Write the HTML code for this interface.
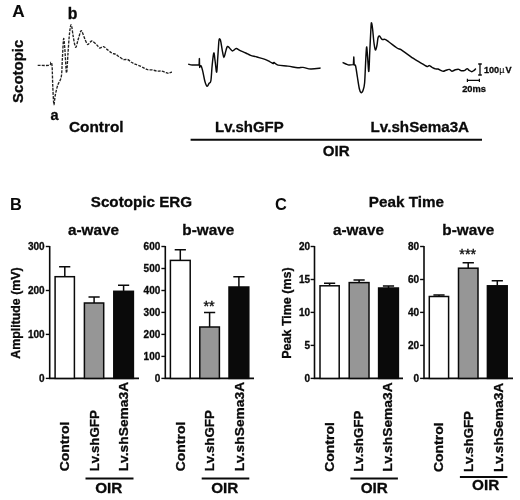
<!DOCTYPE html>
<html><head><meta charset="utf-8"><title>Figure</title>
<style>
html,body{margin:0;padding:0;background:#fff;}
body{width:520px;height:500px;overflow:hidden;}
svg{display:block;filter:grayscale(1);}
text{font-family:"Liberation Sans",sans-serif;font-weight:bold;fill:#0a0a0a;stroke:#0a0a0a;stroke-width:0.3px;}
.ln{stroke:#0a0a0a;fill:none;}
</style></head><body>
<svg width="520" height="500" viewBox="0 0 520 500">
<rect width="520" height="500" fill="#fff"/>

<text x="12.2" y="17.4" font-size="17.2" style="stroke-width:0.1px">A</text>
<text x="67.8" y="19.3" font-size="15.8">b</text>
<text x="50.5" y="120.3" font-size="14.5">a</text>
<text transform="translate(22.9,102.9) rotate(-90) scale(1.033,1)" font-size="14.5">Scotopic</text>
<path class="ln" d="M37.7,65.3 C39.6,65.3 47.0,65.8 49.2,65.3 C51.4,64.8 50.4,62.2 50.9,62.4 C51.4,62.6 51.8,62.4 52.1,66.5 C52.4,70.6 52.5,80.7 52.8,87.0 C53.1,93.3 53.5,103.2 53.9,104.5 C54.3,105.8 54.6,98.2 55.3,95.0 C55.9,91.8 56.8,88.1 57.8,85.0 C58.8,81.9 60.5,81.0 61.3,76.5 C62.1,72.0 62.0,64.3 62.4,58.0 C62.8,51.7 63.2,40.4 63.6,38.8 C64.0,37.2 64.3,42.7 64.8,48.4 C65.3,54.1 66.0,72.1 66.5,72.9 C67.0,73.7 67.5,59.9 68.0,53.2 C68.5,46.5 69.0,37.5 69.6,32.8 C70.1,28.1 70.7,24.3 71.3,24.9 C71.9,25.5 72.5,32.7 73.2,36.4 C73.9,40.1 74.8,46.6 75.6,47.2 C76.4,47.8 77.2,42.4 78.0,40.0 C78.8,37.6 79.7,34.1 80.2,32.6 C80.7,31.1 80.8,30.6 81.2,30.7 C81.6,30.8 82.0,31.6 82.6,33.0 C83.2,34.4 84.1,37.3 84.9,39.2 C85.8,41.1 86.9,44.0 87.7,44.5 C88.5,45.0 89.2,42.9 90.0,42.3 C90.8,41.7 91.1,40.6 92.3,41.1 C93.5,41.6 95.7,43.9 96.9,45.0 C98.1,46.1 98.6,47.7 99.7,48.0 C100.8,48.3 102.1,46.3 103.4,46.6 C104.7,46.9 105.9,48.5 107.3,49.6 C108.7,50.7 110.6,52.3 111.9,53.1 C113.2,53.9 114.2,53.6 115.4,54.2 C116.6,54.8 117.5,55.6 118.8,56.5 C120.1,57.4 122.0,59.0 123.5,59.5 C125.0,60.0 126.3,59.0 127.6,59.5 C128.9,60.0 130.3,61.5 131.5,62.3 C132.7,63.1 133.7,63.6 135.0,64.2 C136.3,64.8 138.1,65.2 139.6,65.8 C141.1,66.4 142.8,67.4 144.2,68.1 C145.5,68.8 146.3,69.4 147.7,69.7 C149.0,70.0 150.8,69.7 152.3,69.9 C153.8,70.1 155.4,70.9 156.9,71.1 C158.4,71.3 159.9,70.8 161.5,71.1 C163.1,71.4 165.0,72.3 166.2,72.7 C167.4,73.1 167.6,73.3 168.5,73.2 C169.4,73.1 171.3,72.2 171.9,72.0" style="stroke:#222" stroke-width="1.35" stroke-dasharray="2.9,1.2" stroke-linejoin="round"/>
<path class="ln" d="M188.2,64.2 C188.9,64.3 190.4,64.9 192.2,65.0 C194.0,65.1 197.9,65.0 199.1,65.0 C199.2,63.9 199.3,59.7 199.4,58.6 C199.4,60.1 199.6,65.9 199.7,67.4 C199.9,67.1 200.5,65.3 201.0,65.8 C201.5,66.3 201.9,67.9 202.6,70.6 C203.3,73.3 204.2,79.2 205.0,81.8 C205.8,84.4 206.4,86.0 207.1,86.3 C207.8,86.6 208.4,84.3 209.0,83.4 C209.6,82.5 210.4,83.8 210.9,80.7 C211.4,77.6 211.7,69.6 212.2,65.0 C212.7,60.4 213.3,53.7 213.8,53.0 C214.3,52.3 214.6,57.8 215.1,61.0 C215.6,64.2 216.2,72.9 216.7,72.2 C217.1,71.5 217.4,62.2 217.8,57.0 C218.2,51.8 218.6,44.0 218.9,41.0 C219.2,38.0 219.6,38.8 219.9,39.1 C220.2,39.4 220.6,40.4 221.0,42.6 C221.4,44.8 222.1,49.7 222.6,52.2 C223.1,54.7 223.4,57.4 223.9,57.5 C224.4,57.6 224.8,54.7 225.3,53.0 C225.8,51.3 226.4,48.5 226.9,47.4 C227.4,46.3 227.6,46.3 228.2,46.6 C228.8,46.9 229.9,48.6 230.6,49.3 C231.3,50.0 231.8,50.9 232.5,50.9 C233.2,50.9 234.2,49.7 234.9,49.3 C235.6,48.9 235.6,48.3 236.5,48.5 C237.4,48.7 238.6,49.9 240.2,50.6 C241.8,51.4 244.1,52.2 245.8,53.0 C247.5,53.8 248.7,54.7 250.6,55.4 C252.5,56.1 254.6,56.3 257.0,57.0 C259.4,57.7 262.8,58.6 265.0,59.4 C267.2,60.2 268.6,61.1 270.0,61.8 C271.4,62.5 272.5,63.4 273.2,63.5 C273.9,63.6 273.2,62.2 274.0,62.5 C274.8,62.8 275.7,64.5 278.0,65.1 C280.3,65.7 284.6,65.7 287.9,66.1 C291.2,66.5 295.2,67.5 297.7,67.7 C300.2,67.9 300.8,67.2 303.0,67.4 C305.2,67.6 307.9,68.9 310.8,69.0 C313.7,69.1 319.0,68.2 320.6,68.0" stroke-width="1.45" stroke-linejoin="round"/>
<path class="ln" d="M342.6,62.4 C343.2,62.7 344.9,63.6 346.0,64.0 C347.1,64.4 347.8,64.9 349.0,65.0 C350.2,65.1 352.7,64.7 353.4,64.6 C353.5,63.3 353.7,58.3 353.8,57.0 C353.9,58.3 354.1,63.7 354.2,65.0 C354.4,65.2 355.1,64.0 355.6,66.0 C356.1,68.0 356.8,73.2 357.4,77.0 C358.0,80.8 358.8,86.4 359.4,89.0 C360.0,91.6 360.4,92.3 361.0,92.6 C361.6,92.9 362.4,92.2 363.0,90.6 C363.6,89.0 364.2,87.6 364.6,83.0 C365.0,78.4 365.3,69.0 365.6,63.0 C365.9,57.0 366.3,48.0 366.6,47.0 C366.9,46.0 367.2,52.9 367.6,57.0 C368.0,61.1 368.4,72.4 368.8,71.4 C369.2,70.4 369.4,58.4 369.8,51.0 C370.2,43.6 370.7,31.7 371.0,27.0 C371.3,22.3 371.3,22.7 371.6,23.0 C371.9,23.3 372.2,25.7 372.6,29.0 C373.0,32.3 373.5,39.5 374.0,43.0 C374.5,46.5 374.9,49.7 375.4,50.0 C375.9,50.3 376.6,47.0 377.0,45.0 C377.4,43.0 377.6,39.5 378.0,38.0 C378.4,36.5 378.7,35.8 379.4,36.0 C380.1,36.2 381.1,38.8 382.0,39.4 C382.9,40.0 383.8,39.0 385.0,39.4 C386.2,39.8 387.0,40.6 389.0,42.0 C391.0,43.4 395.0,46.7 397.0,48.0 C399.0,49.3 399.4,48.6 401.0,49.6 C402.6,50.6 404.9,52.4 406.9,53.8 C408.9,55.2 411.3,57.0 413.0,58.2 C414.7,59.4 415.7,59.8 417.3,60.8 C418.9,61.8 421.1,63.0 422.5,63.9 C423.9,64.8 425.1,65.6 426.0,66.0 C426.9,66.4 427.1,66.6 427.7,66.5 C428.3,66.4 428.7,65.5 429.4,65.6 C430.1,65.7 431.0,66.8 432.0,67.3 C433.0,67.8 434.5,68.6 435.5,68.9 C436.5,69.2 437.1,68.8 438.0,69.0 C438.9,69.2 439.8,69.9 440.7,70.3 C441.6,70.7 442.4,71.2 443.3,71.2 C444.2,71.2 444.9,70.6 445.9,70.3 C446.9,70.0 448.3,69.2 449.3,69.4 C450.3,69.6 450.9,71.1 451.9,71.2 C452.9,71.3 454.2,70.1 455.4,69.8 C456.5,69.5 457.8,69.2 458.8,69.4 C459.8,69.6 460.4,70.7 461.4,70.8 C462.4,70.9 463.9,70.7 464.9,70.3 C465.9,69.9 466.5,68.6 467.2,68.6 C467.9,68.6 468.4,69.8 469.2,70.3 C470.0,70.8 471.0,71.7 471.8,71.7 C472.6,71.7 473.4,70.8 474.1,70.3 C474.8,69.8 475.5,68.9 475.8,68.6" stroke-width="1.45" stroke-linejoin="round"/>
<text x="68.9" y="131.6" font-size="15.4">Control</text>
<text x="215.1" y="131.9" font-size="14.95">Lv.shGFP</text>
<text x="370.6" y="131.9" font-size="15.2">Lv.shSema3A</text>
<path class="ln" d="M190.6,139.8 H482" stroke-width="2.1"/>
<text x="322.8" y="156.4" font-size="15.1">OIR</text>
<path class="ln" d="M480,64 V75 M478.2,64 H481.8 M478.2,75 H481.8" stroke-width="1.3"/>
<text x="484" y="72.6" font-size="9.1">100<tspan style="font-weight:normal;stroke-width:0.1px">µ</tspan><tspan dx="1.1">V</tspan></text>
<path class="ln" d="M467.4,80.4 H479.4 M467.4,78.8 V82 M479.4,78.8 V82" stroke-width="1.2"/>
<text x="462.2" y="91.8" font-size="9.3">20ms</text>
<text x="10.1" y="209.6" font-size="16.4" style="stroke-width:0">B</text>
<text x="90.8" y="206.8" font-size="15.2">Scotopic ERG</text>
<text x="67.9" y="235.3" font-size="15.3">a-wave</text>
<text x="182.3" y="235.2" font-size="15.3">b-wave</text>
<text x="275" y="209.7" font-size="16.4" style="stroke-width:0">C</text>
<text x="368.8" y="206.7" font-size="15.25">Peak Time</text>
<text x="333" y="235.3" font-size="15.3">a-wave</text>
<text x="442.3" y="235.2" font-size="15.3">b-wave</text>
<path class="ln" d="M49.7,245.9 V378.4 H139" stroke-width="1.6"/>
<path class="ln" d="M45.8,378.4 H49.7" stroke-width="1.4"/>
<text x="44.6" y="382.3" font-size="10" text-anchor="end">0</text>
<path class="ln" d="M45.8,334.4 H49.7" stroke-width="1.4"/>
<text x="44.6" y="338.3" font-size="10" text-anchor="end">100</text>
<path class="ln" d="M45.8,290.5 H49.7" stroke-width="1.4"/>
<text x="44.6" y="294.4" font-size="10" text-anchor="end">200</text>
<path class="ln" d="M45.8,246.5 H49.7" stroke-width="1.4"/>
<text x="44.6" y="250.4" font-size="10" text-anchor="end">300</text>
<path class="ln" d="M64.8,276.7 V266.8 M59.1,266.8 H70.3" stroke-width="1.5"/>
<rect x="55.1" y="276.7" width="19.3" height="101.7" fill="#fff" stroke="#0a0a0a" stroke-width="1.5"/>
<path class="ln" d="M94.1,303 V297.1 M88.5,297.1 H99.7" stroke-width="1.5"/>
<rect x="84.4" y="303" width="19.3" height="75.4" fill="#969696" stroke="#0a0a0a" stroke-width="1.5"/>
<path class="ln" d="M123.6,291.3 V285.3 M118.0,285.3 H129.2" stroke-width="1.5"/>
<rect x="113.8" y="291.3" width="19.6" height="87.1" fill="#0a0a0a" stroke="#0a0a0a" stroke-width="1.5"/>
<text transform="translate(19.5,358.8) rotate(-90) scale(1.016,1)" font-size="12.2">Amplitude (mV)</text>
<text transform="translate(68.5,471.3) rotate(-90) scale(1.028,1)" font-size="13.6">Control</text>
<text transform="translate(98.7,471.3) rotate(-90) scale(0.979,1)" font-size="13.6">Lv.shGFP</text>
<text transform="translate(128.1,471.3) rotate(-90) scale(1.015,1)" font-size="13.6">Lv.shSema3A</text>
<path class="ln" d="M85.5,478.5 H133.5" stroke-width="1.9"/>
<text x="108.8" y="493.3" font-size="15.3" text-anchor="middle">OIR</text>
<path class="ln" d="M165.3,245.9 V378.4 H254" stroke-width="1.6"/>
<path class="ln" d="M161.4,378.4 H165.3" stroke-width="1.4"/>
<text x="160.3" y="382.3" font-size="10" text-anchor="end">0</text>
<path class="ln" d="M161.4,356.4 H165.3" stroke-width="1.4"/>
<text x="160.3" y="360.3" font-size="10" text-anchor="end">100</text>
<path class="ln" d="M161.4,334.4 H165.3" stroke-width="1.4"/>
<text x="160.3" y="338.3" font-size="10" text-anchor="end">200</text>
<path class="ln" d="M161.4,312.4 H165.3" stroke-width="1.4"/>
<text x="160.3" y="316.3" font-size="10" text-anchor="end">300</text>
<path class="ln" d="M161.4,290.5 H165.3" stroke-width="1.4"/>
<text x="160.3" y="294.4" font-size="10" text-anchor="end">400</text>
<path class="ln" d="M161.4,268.5 H165.3" stroke-width="1.4"/>
<text x="160.3" y="272.4" font-size="10" text-anchor="end">500</text>
<path class="ln" d="M161.4,246.5 H165.3" stroke-width="1.4"/>
<text x="160.3" y="250.4" font-size="10" text-anchor="end">600</text>
<path class="ln" d="M180.3,260.4 V249.8 M174.7,249.8 H185.9" stroke-width="1.5"/>
<rect x="170.4" y="260.4" width="19.8" height="118.0" fill="#fff" stroke="#0a0a0a" stroke-width="1.5"/>
<path class="ln" d="M209.6,327 V312.6 M204.0,312.6 H215.2" stroke-width="1.5"/>
<rect x="199.8" y="327" width="19.6" height="51.4" fill="#969696" stroke="#0a0a0a" stroke-width="1.5"/>
<path class="ln" d="M238.9,287 V276.7 M233.3,276.7 H244.5" stroke-width="1.5"/>
<rect x="229.0" y="287" width="19.8" height="91.4" fill="#0a0a0a" stroke="#0a0a0a" stroke-width="1.5"/>
<text x="209.1" y="310.7" font-size="14.4" text-anchor="middle" style="font-weight:normal;stroke-width:0.35px">**</text>
<text transform="translate(185,471.3) rotate(-90) scale(1.028,1)" font-size="13.6">Control</text>
<text transform="translate(213.9,471.3) rotate(-90) scale(0.979,1)" font-size="13.6">Lv.shGFP</text>
<text transform="translate(243.6,471.3) rotate(-90) scale(1.015,1)" font-size="13.6">Lv.shSema3A</text>
<path class="ln" d="M201.7,478.5 H249.3" stroke-width="1.9"/>
<text x="224.8" y="493.3" font-size="15.3" text-anchor="middle">OIR</text>
<path class="ln" d="M314.5,245.9 V378.4 H403" stroke-width="1.6"/>
<path class="ln" d="M310.6,378.4 H314.5" stroke-width="1.4"/>
<text x="310.0" y="382.3" font-size="10" text-anchor="end">0</text>
<path class="ln" d="M310.6,345.4 H314.5" stroke-width="1.4"/>
<text x="310.0" y="349.3" font-size="10" text-anchor="end">5</text>
<path class="ln" d="M310.6,312.4 H314.5" stroke-width="1.4"/>
<text x="310.0" y="316.3" font-size="10" text-anchor="end">10</text>
<path class="ln" d="M310.6,279.5 H314.5" stroke-width="1.4"/>
<text x="310.0" y="283.4" font-size="10" text-anchor="end">15</text>
<path class="ln" d="M310.6,246.5 H314.5" stroke-width="1.4"/>
<text x="310.0" y="250.4" font-size="10" text-anchor="end">20</text>
<path class="ln" d="M329.6,285.8 V283.3 M324.0,283.3 H335.2" stroke-width="1.5"/>
<rect x="320.0" y="285.8" width="19.2" height="92.6" fill="#fff" stroke="#0a0a0a" stroke-width="1.5"/>
<path class="ln" d="M359.1,282.6 V280.1 M353.5,280.1 H364.7" stroke-width="1.5"/>
<rect x="349.2" y="282.6" width="19.8" height="95.8" fill="#969696" stroke="#0a0a0a" stroke-width="1.5"/>
<path class="ln" d="M388.5,288 V285.9 M382.9,285.9 H394.1" stroke-width="1.5"/>
<rect x="378.6" y="288" width="19.8" height="90.4" fill="#0a0a0a" stroke="#0a0a0a" stroke-width="1.5"/>
<text transform="translate(290.6,358.7) rotate(-90) scale(1.024,1)" font-size="12.2">Peak Time (ms)</text>
<text transform="translate(333.6,471.8) rotate(-90) scale(1.028,1)" font-size="13.6">Control</text>
<text transform="translate(363.2,471.8) rotate(-90) scale(0.979,1)" font-size="13.6">Lv.shGFP</text>
<text transform="translate(392.3,471.8) rotate(-90) scale(1.015,1)" font-size="13.6">Lv.shSema3A</text>
<path class="ln" d="M350.4,478.5 H397.9" stroke-width="1.9"/>
<text x="374.3" y="493.3" font-size="15.3" text-anchor="middle">OIR</text>
<path class="ln" d="M424,245.9 V378.4 H513" stroke-width="1.6"/>
<path class="ln" d="M420.1,378.4 H424" stroke-width="1.4"/>
<text x="419.0" y="382.3" font-size="10" text-anchor="end">0</text>
<path class="ln" d="M420.1,345.4 H424" stroke-width="1.4"/>
<text x="419.0" y="349.3" font-size="10" text-anchor="end">20</text>
<path class="ln" d="M420.1,312.4 H424" stroke-width="1.4"/>
<text x="419.0" y="316.3" font-size="10" text-anchor="end">40</text>
<path class="ln" d="M420.1,279.5 H424" stroke-width="1.4"/>
<text x="419.0" y="283.4" font-size="10" text-anchor="end">60</text>
<path class="ln" d="M420.1,246.5 H424" stroke-width="1.4"/>
<text x="419.0" y="250.4" font-size="10" text-anchor="end">80</text>
<path class="ln" d="M439.0,296.5 V295.1 M433.4,295.1 H444.6" stroke-width="1.5"/>
<rect x="429.3" y="296.5" width="19.3" height="81.9" fill="#fff" stroke="#0a0a0a" stroke-width="1.5"/>
<path class="ln" d="M468.2,268.2 V262.7 M462.6,262.7 H473.9" stroke-width="1.5"/>
<rect x="458.5" y="268.2" width="19.5" height="110.2" fill="#969696" stroke="#0a0a0a" stroke-width="1.5"/>
<path class="ln" d="M497.3,285.8 V280.7 M491.7,280.7 H502.9" stroke-width="1.5"/>
<rect x="487.4" y="285.8" width="19.8" height="92.6" fill="#0a0a0a" stroke="#0a0a0a" stroke-width="1.5"/>
<text x="467.7" y="259.1" font-size="14.4" text-anchor="middle" style="font-weight:normal;stroke-width:0.35px">***</text>
<text transform="translate(443.4,472.1) rotate(-90) scale(1.028,1)" font-size="13.6">Control</text>
<text transform="translate(473.4,472.1) rotate(-90) scale(0.979,1)" font-size="13.6">Lv.shGFP</text>
<text transform="translate(502.8,472.1) rotate(-90) scale(1.015,1)" font-size="13.6">Lv.shSema3A</text>
<path class="ln" d="M459.9,477.0 H507.4" stroke-width="1.9"/>
<text x="485.6" y="490.3" font-size="15.3" text-anchor="middle">OIR</text>
</svg></body></html>
